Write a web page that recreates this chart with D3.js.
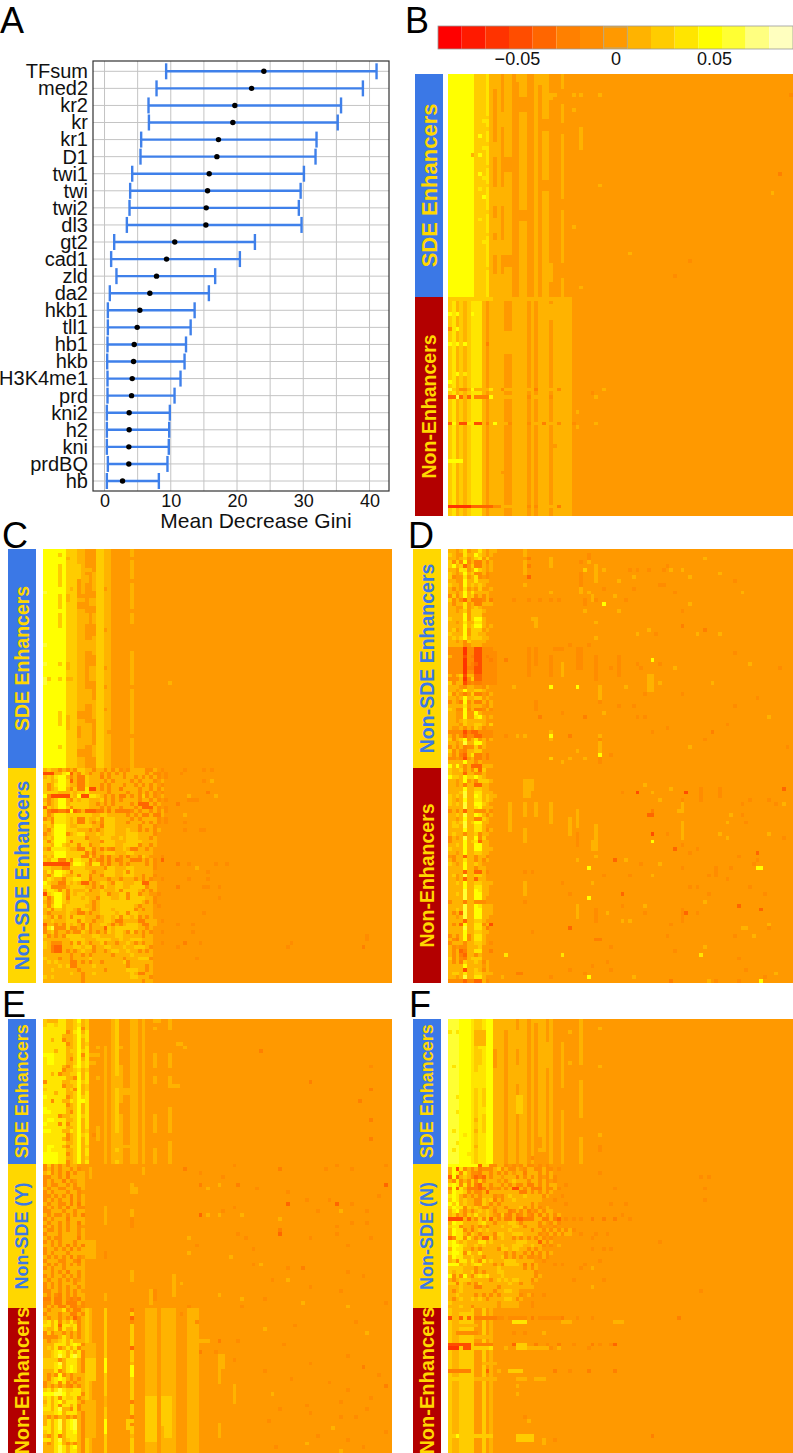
<!DOCTYPE html>
<html>
<head>
<meta charset="utf-8">
<title>Panels</title>
<script src="https://cdn.jsdelivr.net/npm/d3@7"></script>
<style>
body { margin: 0; background: #fff; }
svg { display: block; font-family: "Liberation Sans", Arial, sans-serif; }
.grid { stroke: #c4c4c4; stroke-width: 1; }
.axis path, .axis line { display: none; }
</style>
</head>
<body>
<script>
// panel A
var features = ["TFsum","med2","kr2","kr","kr1","D1","twi1","twi","twi2","dl3","gt2","cad1","zld","da2","hkb1","tll1","hb1","hkb","H3K4me1","prd","kni2","h2","kni","prdBQ","hb"];
var giniLow = [9.3,7.85,6.64,6.7,5.53,5.43,4.18,3.87,3.77,3.37,1.46,1.0,1.8,0.8,0.5,0.5,0.45,0.4,0.45,0.45,0.35,0.35,0.35,0.5,0.35];
var giniMean = [24.05,22.2,19.67,19.37,17.2,16.96,15.8,15.55,15.35,15.3,10.6,9.36,7.85,6.84,5.33,4.93,4.48,4.38,4.18,4.08,3.72,3.72,3.67,3.67,2.72];
var giniHigh = [41.06,39.0,35.7,35.2,32.0,31.85,30.1,29.6,29.33,29.74,22.7,20.43,16.7,15.75,13.6,13.0,12.3,12.08,11.47,10.57,9.86,9.76,9.7,9.5,8.2];
var giniTicks = [0,10,20,30,40];
var giniGrid = [0,5,10,15,20,25,30,35,40];

// colour key (level = steps of 0.012 away from zero)
var keyColors = ["#ff0000","#ff1a00","#ff3300","#ff4d00","#ff6600","#ff8000","#ff8c00","#ff9900","#ffb300","#ffcc00","#ffe500","#ffff00","#ffff33","#ffff80","#ffffbf"];
var keyTicks = [-0.05,0,0.05];
var levelStep = 0.012;

// heat maps: columns = typical level of a column, rows = row by row read of the busy left block
// (0-5 = level, a-f = -1..-6), bands = [row0,row1,col0,col1,level], spots = [row,col,level]
var bSdeColumns = [4,4,4,4,4,4,4,2,2,2,3,1,0,1,0,1,1,0,0,1,1,0,0,1,0,1,1,0,0,0,1];
var bSdeBands = [[0,3,11,12,1],[5,6,25,27,1],[5,5,26,28,1],[0,1,18,20,1],[14,17,35,35,1],[17,19,35,35,1],[40,44,23,23,1],[10,13,13,14,1],[18,21,12,13,1],[30,34,12,16,1],[44,47,11,14,1],[0,2,23,24,1],[50,54,26,27,1],[6,9,19,20,0],[22,25,15,16,0],[36,38,19,20,0],[48,50,15,16,0],[12,14,25,26,0],[28,30,25,26,0],[4,7,30,30,0],[13,15,30,30,0],[33,35,30,30,0],[50,53,30,30,0],[38,41,12,13,1],[53,58,11,14,1]];
var bSdeSpots = [[5,33,1],[5,35,1],[5,40,1],[5,91,-1],[9,33,1],[29,40,1],[26,88,-2],[49,64,-1],[16,8,4],[21,8,4],[21,6,1],[26,8,4],[30,8,3],[32,9,4],[11,10,2],[14,10,2],[18,10,2],[24,10,2],[29,10,2],[36,10,2],[42,10,2],[51,10,2],[12,9,3],[19,9,3],[27,9,3],[38,8,3],[44,9,3],[53,60,-1],[31,86,1],[47,48,1],[40,33,1],[56,35,1]];
var bNonColumns = [2,3,1,2,1,2,3,3,3,1,0,1,1,1,1,0,0,1,1,1,1,0,1,0,1,1,1,0,1,1,1,1,1];
var bNonBands = [[24,24,0,32,1],[26,26,7,10,-2],[26,26,12,30,1],[33,33,11,33,1],[43,43,0,3,4],[55,55,0,5,-5],[55,55,6,11,-3],[55,55,12,13,-1],[55,55,14,31,1],[2,5,24,27,1],[9,14,15,16,1],[0,0,0,11,2],[0,0,12,27,1],[36,40,30,32,1]];
var bNonSpots = [[24,0,5],[24,1,2],[24,3,-1],[24,4,-1],[24,6,4],[24,11,3],[24,14,-1],[24,23,-2],[24,29,-1],[26,0,-3],[26,1,-3],[26,2,5],[26,3,-3],[26,5,-3],[26,11,4],[26,21,-1],[26,27,-1],[26,39,1],[33,0,-3],[33,1,4],[33,3,-4],[33,4,-4],[33,5,3],[33,7,-4],[33,8,-4],[33,10,-2],[33,12,4],[33,16,-1],[33,21,-1],[33,25,-2],[33,29,-1],[33,33,-1],[33,39,1],[4,0,4],[4,2,4],[4,6,4],[8,2,4],[8,0,-1],[12,0,4],[12,2,4],[12,4,4],[12,10,-2],[20,2,4],[20,4,3],[22,0,4],[25,38,-1],[24,41,1],[30,34,1],[34,34,1],[55,21,-1],[55,23,-1],[55,29,-2],[46,14,0],[39,28,0]];

var cSdeColumns = [4,4,4,4,4,4,2,2,2,1,1,0,0,0,2,2,1,1,0,0,0,0,0,1];
var cSdeBands = [[4,7,9,9,2],[8,11,9,9,0],[5,5,11,12,1],[7,8,11,11,1],[6,10,13,13,1],[12,16,11,11,0],[12,12,9,10,0],[14,15,9,10,0],[17,19,10,11,1],[13,14,12,13,1],[17,19,13,13,1],[23,27,13,13,1],[24,30,9,9,1],[24,26,11,12,1],[31,34,12,13,1],[37,40,11,12,1],[40,44,13,13,1],[46,51,11,12,1],[52,54,13,13,1],[4,9,4,4,2],[12,15,4,4,2],[17,20,4,4,2],[43,46,4,4,2],[44,47,6,6,1],[12,13,6,6,1],[30,31,6,6,1],[43,44,9,10,0],[47,49,9,9,0],[53,54,9,10,0],[20,26,23,23,0],[2,2,23,23,0],[8,8,23,23,0],[16,16,23,23,0],[36,36,23,23,0],[49,49,23,23,0]];
var cSdeSpots = [[1,4,2],[2,6,1],[10,7,1],[10,16,0],[21,16,0],[31,16,0],[36,16,0],[42,16,0],[48,17,0],[30,4,2],[34,1,2],[34,4,2],[34,6,1],[34,7,1],[34,9,1],[31,9,1],[35,33,1],[11,0,5],[25,0,5],[30,0,5],[34,0,5],[35,0,5],[52,4,2]];
var cNonColumns = [1,2,1,2,2,2,1,1,1,1,2,2,1,1,1,1,1,1,1,1,1,1,1,1,1,1,1,1,1,1,1,0,0,0];
var cNonRows = [
"1211a1a1a2211a11a1a1a0a1111aa10a00",
"ddd1134c1a21a11a1a1a1a11111a1aa0a0",
"1213441a1bb2111b1a111a11a1a1a1a0a0",
"2212442c1bb21111a1a1111a1a111a0100",
"2a1344211bb2111a1a111a11a1a1a10a00",
"2a12441a2bb3dd1a1a11b1111a11a1a100",
"22221112122311111a1111a11a1a1a0a00",
"4addddd214dd3321a1a1bb1a1a2a1a0100",
"1a12441a21221112a1a1a1111a11a1a0a0",
"2a124412222211a1a1a1111a1ccc1a1000",
"c212442a2222111a1a11a111a1ccc1a0a0",
"2bccbbc4cb1cccbb1b1bbbba1a11a1a1a0",
"2a13332222222112211111a1a1bb1bb100",
"a1a333212bb2112a2221111a1a1111a0a0",
"22a333212bb21a1a222111a111a1a1a0a0",
"121444211222211b222111111a111a0000",
"1a2444222111a1a1222111211a1a1a1000",
"a12444a1233111212221112221111a0000",
"12144422222a1112221121222111a10000",
"2a24442b2222111a222111222211110000",
"221442122a22a112222112222a11a10000",
"1a3333211bb22a1b1ab1121bb11a100000",
"22244422222b1b11222111221111100000",
"1214442222bb2a1b1b11a1b11a21000a00",
"2133bb2a3322b1ab1b1ba11bbb1a1a0c00",
"ddddddd14431a33a1b11a1a1111a1a0000",
"22111bb222211111a221112211111a0000",
"1314432a22221a11222112a21111100000",
"1a2442112a22a11a2221122211a11a0000",
"13211a223322b1111a11a111a1a1a00a00",
"4211bb2121cc1a1221a2211122cc110000",
"33aaaa1222211a1a21122112222a110000",
"1332a2a21112a1121112a22221a1a10000",
"d23442a2122111122a1122a22a1100a000",
"2b1442b2221211a2221122a222211a0000",
"1a14421222221a1222222222221a1a0000",
"2a24412222211a12222222221a1110a000",
"12a221221a221a1222122222a1a1100000",
"1a1111211bb1a112222122a22111100000",
"21a2a12a222111a12212a2212a1a100000",
"112111222a211a11221bb1111bb1110a00",
"c11a1a2121b2a11221b1a12221bb110000",
"a35aaa2aa1a2a111c2122222211a100000",
"a12a11a1aa21a1a1a21221a2a1a1a00a00",
"2a1a1a22221112211112211111a1100000",
"1111111222211122221121122211100000",
"21aaa11a2a21a112a11a1121a1a1100a00",
"21bcc11122122a11221112112221a00000",
"11bcc1a1a1211a11a12211211a1a100000",
"1111111a11a1a11111a111121111100000",
"2111a11a1111211111111a111222a00000",
"1212111bb1a1a11a111112a11111100000",
"1111212bb1111211111111a1111a100000",
"112111111a111111a1111122211a100000",
"1111111211a11211111111121bb1100000",
"2121111111a11111111111122111a00000",
"1111111111a111111111111111a1100000"];
var cNonSpots = [[0,37,-1],[0,42,-1],[0,44,-1],[1,36,-1],[3,42,-1],[3,44,1],[6,43,-2],[7,45,1],[7,38,1],[8,38,-1],[8,39,-1],[8,40,-1],[9,35,-2],[12,37,1],[14,37,-1],[16,37,-1],[16,42,-1],[16,41,-1],[25,35,-2],[25,38,-1],[25,45,-1],[25,48,-1],[26,40,1],[27,43,-1],[29,43,-1],[29,38,-1],[31,35,-2],[31,46,-1],[31,42,-1],[31,43,-1],[34,46,-1],[41,35,-1],[41,39,-1],[41,35,-1],[38,42,-1],[43,39,-1],[50,40,-1],[46,37,-2],[46,41,-1],[47,35,-1],[45,85,-1],[46,65,-1],[47,64,-1],[44,85,-1],[47,84,-2]];

var dSdeColumns = [1,1,1,1,3,1,1,2,2,1,1,1,1,0];
var dSdeRows = [
"1101301131011","2100311421010","1101201230200","2a2a4a1bb1a10","2412c02bb1010","1103301421010","2101412aa1a00","2a003013a0a00","1100411311100","2110412121000",
"1a10301020010","1101413111100","a2a1412a1a100","2a1ac1bbba1b0","1a11301bb1110","1100301210000","1101202221000","1111402220000","2111402441000","1101311331000",
"1111412441010","1201402220100","2111402211000","1212412221100","1101a21111000","1111a01110000",
"aaaaeaaddaaa0","aaaaeaaddaaaa","1aaadabddabaa","aaaaeaaddaaba","aaaaeabcdaaaa","aaaaebbddaaaa","aaaaeaaddaaaa","1a12d11ccaaaa","aaa1ea2ccaaaa","2a11dbabbaaaa",
"1110a1100a100","1101411221000","2a10b02bb0a10","1101411220100","a10b4a1bb1a10","1111301110a10","21aa4a1bba1a0","1100400410000","1100400341010","1101211111000",
"1110211221020","1001a1021a000","aaaadbccaaaa0","1a1acaaccaaa0","2a124a1301a10","1101511441000","a1a1baa2a1000","2a1ab11220000","1a1bc13bb0b00","aa0ad01bb0b00","1111411a10000","4141a1ccc1110"];
var dSdeBands = [[3,6,20,20,1],[0,1,20,20,1],[9,11,35,35,1],[1,2,37,37,-1],[4,5,39,39,1],[2,4,27,27,1],[26,33,21,21,-1],[26,30,23,23,-1],[28,33,27,27,-1],[26,31,34,35,-1],[28,34,39,39,-1],[28,33,45,45,-1],[36,39,40,40,1],[33,37,53,54,1],[50,53,40,40,1],[6,8,39,39,1],[18,20,23,23,1],[6,9,35,35,-1],[26,26,28,30,-1],[30,33,30,30,1],[40,42,23,23,-1],[48,50,27,27,1],[54,56,40,40,-1]];
var dSdeSpots = [[2,21,-2],[3,35,-1],[3,37,1],[4,21,-2],[5,36,1],[7,21,-3],[9,20,1],[11,27,1],[11,37,1],[13,17,-1],[13,21,-1],[13,24,-1],[13,27,-1],[13,29,-1],[13,36,-1],[13,38,1],[13,39,-1],[13,47,-1],[14,36,-1],[14,41,4],[5,36,2],[5,41,1],[5,48,-1],[5,50,-1],[5,53,-1],[5,57,-1],[5,59,1],[7,49,1],[10,49,-1],[9,56,-1],[9,57,-1],[8,45,1],[10,41,-1],[12,44,1],[12,38,1],[16,36,1],[16,45,1],[18,22,1],[19,39,1],[21,53,1],[22,55,-1],[22,50,1],[23,39,1],[25,32,-1],[25,37,-1],[29,54,4],[30,50,-1],[30,56,-1],[31,51,-1],[29,15,-2],[29,27,-1],[31,43,-1],[36,17,1],[36,27,4],[36,34,4],[36,47,1],[41,49,-1],[38,52,-1],[40,40,-1],[41,45,-1],[43,30,-1],[43,41,1],[44,24,-2],[44,36,-2],[44,50,-1],[44,52,-1],[49,15,-1],[49,18,1],[49,20,1],[49,27,4],[49,32,-2],[49,40,1],[50,40,-1],[53,34,1],[55,32,1],[54,43,-1],[54,40,4],[55,27,2],[55,36,1],[56,30,1],[48,54,-1],[47,58,-1],[50,68,-1],[48,70,-2],[31,60,1],[35,56,1],[38,62,-1],[22,66,1],[21,68,-2],[20,62,-2],[5,62,1],[7,64,1],[2,68,1],[6,72,1],[8,76,-1],[11,78,1],[16,62,-1],[22,72,1],[27,76,-1],[30,80,1],[31,88,-1],[35,70,1],[39,82,-1],[41,76,-1],[44,85,1],[46,74,-1],[52,90,-1],[52,64,1],[14,64,1],[11,60,-1],[4,58,-1]];

var dNonColumns = [1,1,1,2,4,1,1,3,3,2,1,1,1,0,0,0,0];
var dNonRows = [
"2112a1a2c2000","2111c11aa1000","4221422421000","1101401a22210","1101b11cc1100","1111411221100","1112511331110","2121511431211","2101411331210","2121511442100",
"1111511341110","a1a1c11aaa1a0","1121511431a10","1101411bb2100","1212512441100","1221511331000","1111411331a10","1211a112a1100","a1015114a2000","a1114123c1100",
"1121411441100","2111411441110","1101411221100","0a11c11a11a00","1a11311a1a100","2101411210000","1111411a11000","1111c11cc1a00","1201511221000","1101c11c11000",
"1121411221110","1111411331100","1111511431100","1121511441100","1111511441000","a111b11aaa000","1111511431110","1121511441110","1a1c511441110","1101511441100",
"1111c11221000","1a1c41133a100","1111511331b00","1111411221100","a1a14a1331000","1ab14a1331000","a111a112210a0","1a0aa11120000","1a1cb11330000","1a1bc11a10000",
"2a1ab12220000","1a1b21121a100","1111411110100","1111d1121a100","1221311221110","1101511331000","aaaacaacc1a00"];
var dNonBands = [[9,16,16,16,1],[9,12,20,20,1],[16,19,20,20,1],[9,12,23,23,1],[9,14,27,27,1],[13,17,32,32,1],[11,15,34,34,1],[15,18,39,39,1],[17,20,34,34,-1],[4,7,20,21,1],[3,5,20,22,1],[30,33,20,20,1],[36,39,34,34,1],[37,40,39,39,-1],[19,21,38,39,1],[26,28,71,71,-1],[5,8,67,67,-1],[5,7,72,72,-1],[9,11,62,62,1],[14,18,62,62,1],[37,40,62,62,-1]];
var dNonSpots = [[6,50,-4],[6,63,-4],[12,53,-3],[12,54,-3],[11,54,-2],[17,54,-4],[19,54,4],[26,37,4],[26,83,4],[26,82,4],[34,37,4],[33,46,-3],[24,44,-3],[21,60,-3],[36,77,-3],[37,83,-3],[38,63,-3],[56,83,4],[49,67,3],[49,30,3],[49,15,3],[42,32,-3],[41,11,-4],[44,58,-2],[5,89,-3],[22,82,-3],[6,46,-1],[4,52,1],[6,54,1],[8,56,1],[5,59,1],[8,62,-1],[8,80,-1],[8,85,-1],[9,78,-1],[9,87,-1],[9,89,1],[11,61,1],[12,75,1],[12,78,-1],[14,74,1],[14,79,-1],[17,58,-1],[17,72,1],[18,74,1],[17,85,1],[18,89,-1],[21,66,-1],[22,64,-1],[20,62,-1],[24,34,1],[23,77,-1],[24,82,-1],[25,81,-1],[23,39,1],[24,47,1],[25,51,-1],[25,56,1],[26,62,-1],[26,75,-1],[27,20,-1],[27,22,-1],[28,41,-1],[28,48,-1],[28,54,1],[29,74,-1],[28,69,-1],[30,30,-1],[30,38,1],[31,64,-1],[31,66,-1],[31,80,-1],[33,32,-1],[33,69,-1],[33,84,-1],[35,20,-1],[35,68,1],[36,46,-1],[36,52,1],[38,42,1],[38,52,-1],[38,66,-1],[40,46,1],[40,48,1],[41,59,-1],[41,85,1],[42,78,1],[42,79,1],[42,85,-1],[43,22,-1],[44,58,-1],[44,76,-1],[44,81,1],[45,39,-2],[45,40,-2],[47,43,-1],[47,68,1],[48,11,-2],[48,60,-1],[50,77,-1],[52,38,-1],[51,42,-1],[53,32,-1],[53,43,-1],[53,79,-1],[54,18,-2],[54,19,-2],[54,36,-1],[55,14,1],[55,27,-1],[55,37,4],[55,49,1],[54,87,1],[55,84,-1],[56,71,-1],[56,69,1],[56,59,-2],[56,77,-1]];

var eSdeColumns = [3,3,3,3,3,3,1,1,2,4,1,3,0,0,0,0,1,0,1,2,1,0,0,1,1,0,1,0,0,1,0,0,0,1];
var eSdeRows = [
"211133112412","233233112312","3333331124a2","333333a13413","333331112423","33133a112413","333333a12412","333333112413","333133122423","4443331124a3",
"3443331a2413","344333112423","333331a13423","33333a112312","3313a1122413","33333311a413","a33331122423","33333a112412","23333312a412","333133112413",
"433333a12423","33a331132443","333333a12413","433333112413","4433331a2413","3333a1122423","344333112413","4333a3a22413","333333112413","443331132412",
"333333a12423","333331a12413","333333112413","344331a22412","343333112413","444433a12413","444433112412","444433a12413"];
var eSdeBands = [[0,6,20,20,0],[0,2,16,16,0],[8,11,20,20,0],[15,17,19,20,1],[22,24,20,20,0],[30,33,19,19,1],[5,9,21,21,0],[18,19,21,22,1],[0,8,29,29,0],[13,14,29,29,0],[17,24,29,29,0],[30,33,29,29,0],[3,8,33,33,0],[13,14,33,33,0],[18,22,33,33,0],[30,31,33,33,0],[0,6,16,16,0],[15,17,12,14,0],[9,13,12,13,0],[9,9,12,14,1],[11,11,12,13,1],[15,15,14,14,1],[28,31,14,14,1],[33,33,19,22,1],[35,36,18,20,1],[6,6,35,36,1],[17,17,33,35,1],[10,10,33,33,1],[2,2,29,29,1],[37,37,29,29,1],[37,37,33,33,1],[0,0,29,30,1]];
var eSdeSpots = [[8,57,-2],[12,86,-1],[16,70,-2],[18,86,-2],[21,83,-2],[26,86,-2],[31,86,-2],[7,37,1],[7,14,1],[15,14,1],[30,14,1],[30,13,-1]];
var eNonColumns = [1,1,1,1,1,1,1,1,1,1,1,0,0,0,0,0,0,0,0,0,0,0,0,0,0];
var eNonRows = [
"a2a1a1a1100","a1a1a11a1a0","12a1a1b1a11","aa11a1b1111","a1a11b1a011","a1aa11a1a11","1a11aa11aa1","a1a111a11a0","aa1a1a1b1a1","a1a1a11b1a1",
"1a11aa1b1b1","a1a1a1b11aa","aa111a11a11","1a1aa1a1a1b","a1a111b1111","1a11a1a11b1","a1a1a1a11a0","1aa1a1a11a1","a111a1111a1","1a1aa1111b1",
"a1a1a111a11","11a1a1b1a1b","a11a1a1b1a1","a1a111a1111","1a1a1a1b1a0","a111aa11ab1","1a1a1a1a1a1","a1a11a11111","11a1a1b11a1","a1a11a1a1a1",
"1a11a1a1a01","a1a1a111a11","a1a1a1a11a1","aa11a1a1a10","1a1ab1a1a11","bb1bb1abab1","aa1bb1bbb1a","a1a1bb1bb0a"];
var eNonBands = [[1,3,12,12,1],[6,7,23,24,1],[11,15,16,16,1],[12,15,23,23,1],[1,2,26,26,1],[5,6,23,23,1],[14,16,23,23,-1],[20,24,11,13,1],[23,24,16,16,-1],[28,30,23,23,1],[29,34,34,34,1],[33,36,28,28,1],[33,35,29,29,-1],[34,35,16,16,1]];
var eNonSpots = [[1,37,-2],[0,50,-1],[1,62,-2],[1,74,-1],[0,77,-1],[1,81,-1],[0,90,-1],[2,41,-1],[3,47,-1],[5,41,-2],[6,43,1],[5,46,1],[5,51,-2],[6,56,-1],[7,64,-1],[5,90,-3],[8,88,-1],[10,64,-3],[9,69,-1],[9,75,-1],[10,77,-3],[10,81,-1],[11,50,-1],[12,47,-1],[13,41,-3],[13,43,1],[13,46,1],[13,52,1],[12,72,-1],[12,78,1],[12,85,-1],[14,62,1],[15,81,-1],[15,85,-1],[16,77,-1],[17,62,-2],[18,77,-1],[18,62,-3],[18,51,-1],[19,38,1],[19,53,-1],[19,70,-1],[19,86,-1],[21,40,-1],[21,80,-1],[22,55,-1],[23,38,1],[24,49,1],[26,55,-1],[26,57,1],[27,68,-2],[27,64,-1],[28,80,-1],[29,84,-1],[30,60,-1],[30,64,1],[31,36,1],[32,70,-1],[33,78,-1],[34,46,1],[35,52,1],[35,58,-1],[36,90,-1],[36,68,1],[37,38,-1],[37,52,-1],[37,80,1]];
var eEnhColumns = [1,2,1,2,3,4,1,3,3,4,1,2,1,0,0,0,2,0,0,0,0,0,0,2,0,0,0,1,1,1,0,1,1,1,1,0,0,0,1,1,1];
var eEnhRows = [
"1a1113a1bb1","a111a11bb1a","1a11a1a1ca1","2313a2131a1","3313c3323a1","2113a3113a1","a2a11a1a1a1","aaaa131a1a1","1a112313111","1113331343a",
"1213a1313a1","1123431313a","1123531453a","2222a13331a","2223513331a","2223413431a","1113a13431a","1a1a4a1a111","1a23431a1a1","a123a3a1a11",
"a1a1a1ab1a1","23135322331","4445542333a","2313a3223a1","1313413331a","2313a3313a1","3313511a3a1","2223413331a","1a1a11a1a1a","1313513451a",
"1313513451a","3313513451a","2313413341a","1a13b13331a","3313512331a","1a1341a1a1a","1113531341a","1113531331a"];
var eEnhBands = [[9,10,27,28,1],[13,20,27,29,1],[23,28,27,29,2],[29,34,27,29,2],[13,20,31,33,1],[23,30,31,33,2],[30,33,32,33,2],[9,12,11,13,1],[13,18,11,13,2],[24,28,11,13,1],[29,33,11,13,1],[13,16,16,16,4],[29,32,16,16,4],[7,9,16,16,2],[23,25,16,16,1],[2,6,23,23,2],[14,17,23,23,4],[29,31,22,23,2],[8,8,38,43,1],[13,14,38,40,1],[28,29,38,40,1],[16,19,46,46,1],[12,15,46,47,1],[2,3,23,23,-1],[20,24,50,50,1],[30,33,46,46,1]];
var eEnhSpots = [[0,23,-2],[2,23,-3],[10,23,-3],[14,23,1],[24,23,-2],[28,23,-2],[30,23,-1],[33,23,1],[1,36,-1],[3,40,-1],[4,66,-1],[5,58,1],[8,46,-2],[8,51,-1],[9,63,-1],[11,45,-1],[11,41,-2],[13,50,-1],[14,70,-1],[16,58,-1],[18,65,-1],[19,75,-1],[21,80,-1],[22,60,1],[24,78,-1],[25,69,-1],[26,62,-1],[26,85,-1],[27,70,-1],[28,82,-1],[29,59,-1],[31,76,1],[32,90,-1],[33,72,-1],[34,80,-1],[35,69,1],[36,84,-1],[36,61,-1],[37,78,1],[12,80,-1],[15,84,-2],[17,88,-1],[20,90,-2],[23,86,-1],[28,78,-1],[3,82,-1],[6,85,1]];

var fSdeColumns = [5,5,5,4,4,4,3,2,3,3,4,4,1,1,1,0,1,1,0,1,1,0,1,0,1,1,0,1,0,0,1,0,0,0,0,1];
var fSdeBands = [[0,2,7,8,2],[3,6,7,9,1],[8,11,7,8,2],[14,17,7,9,3],[18,22,9,9,2],[25,29,9,9,2],[0,2,13,15,1],[4,7,12,12,1],[8,12,12,12,0],[3,7,18,20,1],[30,33,18,18,0],[12,16,18,19,1],[20,24,18,19,2],[0,0,23,25,1],[6,12,26,26,1],[13,18,26,26,0],[0,5,30,30,0],[18,23,30,30,0],[3,8,35,35,1],[12,15,35,35,0],[26,30,35,35,0],[31,33,23,24,0],[35,37,24,26,0]];
var fSdeSpots = [[3,2,3],[3,0,3],[9,1,5],[10,2,5],[12,1,3],[20,2,3],[23,1,5],[24,2,3],[24,0,5],[29,1,3],[32,2,3],[34,1,3],[2,40,1],[12,40,1],[30,40,1],[33,40,-1],[34,40,-1],[36,22,-1],[3,32,1],[11,32,1],[26,7,1],[29,7,1],[33,7,1],[30,4,3],[35,5,3]];
var fNonRows = [
"44444444c33aa11a0a0a1aa0a0a000000000",
"14d3a1a1baaa12a1aa10a11aa1aa0a000000",
"143a31aab11a1a1a1011b111a1a100000000",
"c4c121acbc1a110111b1a1a1a0a1a0000000",
"1a3a1a2a2a11101a12111a11a1a0a0000000",
"343a3a2bc11a11a1a1aa1bb1a1a1100a0000",
"a4c31bbbcb1a0a1a1dd1a1bbb1aa1a000000",
"14332a1aa1c11111111bb1a1a1a100000000",
"3431a1a1a111a0a1211121111a1000a00000",
"2431211aa212b1a1121111111000a0000000",
"4241211aa21a1a11111111a10000000a0000",
"2433a2121aa1011a1112a1a1a01000000000",
"1341a1a12121a111ba1a1b0a1a1100000000",
"12a1a21311210a2ab1ba1ab1b1a1a1000000",
"dddd1c1a2a2c1a1bb1ccbbb11bb1bc0a0a0a",
"143311112311a111221a1111a10a1a000000",
"233a11a1a1a111211221a111a000a0000000",
"1433a1b121211111211111a11a1a1a1a1a00",
"14331a21a111a22112221111a0a1a1a1100a",
"ca33a31a1cc2a1211a1a1a1a1a0a00000000",
"342121113312111111222111c1a100000000",
"3443211212111121122211211a0a01000000",
"143311a1a1111a2212211a1a100000000000",
"3443a3113111111a1a11a1b1a1a100000000",
"143311211a11112a1a1a1aa0a1a000000000",
"12a33131a3121112221111100a0000000000",
"444121233111a1a22221b1b10000a0a00000",
"2222111a111112111111a1a100000000000a",
"2122112a1a1112211111111a000000000000",
"4a2a41a2323111211111111a100000000000",
"1a122211111a1212122111a1000000000a00",
"22b21a1a21111111211a1100000000000000",
"1112111bb1111a1111111110000000000000",
"1a1211111111a11221100000000000000000",
"1121111a1a1a1a11111a01a00a0000000000",
"1a12112121a1111221a10000000000000000",
"2111111111111011111000a0000000000000",
"111211a111111011111000a0000000000000"];
var fNonSpots = [[2,40,-1],[3,67,-1],[3,69,-1],[6,68,-1],[6,44,-1],[9,68,-1],[10,47,-1],[10,43,-1],[14,38,-2],[14,41,-2],[14,44,-2],[14,48,-1],[20,56,-1],[22,41,-1],[22,43,-1],[22,38,-1],[30,41,-1],[32,38,1],[33,67,-1],[25,40,-1],[26,36,-1],[27,38,1],[13,46,-1],[18,39,-1],[18,42,-1],[19,38,-1]];
var fEnhColumns = [2,1,1,2,2,2,2,0,0,2,0,1,0];
var fEnhBands = [[0,0,3,5,1],[2,2,0,0,-4],[2,2,1,2,1],[2,2,3,3,-3],[2,2,4,4,2],[2,2,5,5,-3],[2,2,7,12,-2],[2,2,13,14,-1],[2,2,16,20,-1],[3,3,17,20,3],[2,2,24,29,-1],[3,3,30,32,1],[3,3,44,46,1],[9,9,0,5,-4],[10,10,0,2,-5],[10,10,4,5,-4],[9,9,7,11,-2],[10,10,7,11,2],[9,10,18,20,2],[10,10,21,26,1],[16,16,0,5,-2],[16,16,16,19,2],[18,18,1,6,2],[18,18,7,12,1],[18,18,18,20,1],[33,33,0,3,2],[33,33,7,11,2],[33,34,18,22,2],[6,6,2,7,-1],[4,4,2,7,1],[14,14,9,12,1],[7,7,7,11,1],[18,18,23,25,1]];
var fEnhSpots = [[2,22,-2],[2,30,-2],[2,34,-1],[2,38,-1],[2,61,-2],[6,17,-1],[6,20,-1],[6,25,1],[9,17,-3],[9,23,-2],[9,26,-1],[9,29,-2],[9,33,-1],[9,38,-2],[9,40,-1],[9,43,-1],[9,44,-3],[10,15,1],[10,27,-1],[10,29,1],[10,37,-1],[10,11,3],[16,10,-3],[16,28,-2],[16,32,-1],[16,37,-2],[16,44,-2],[16,13,1],[33,2,4],[33,54,-2],[20,18,1],[22,18,1],[28,20,-1],[29,21,1],[34,25,1],[35,25,1],[34,28,-1]];

var levelCodes = {a:-1,b:-2,c:-3,d:-4,e:-5,f:-6};
function codeLevel(ch) {
  return ch in levelCodes ? levelCodes[ch] : +ch;
}

var panelColumns = 92;

// one row-by-column grid of levels for a group
function buildGroup(nRows, columns, rows, bands, spots) {
  var grid = d3.range(nRows).map(function(r) {
    return d3.range(panelColumns).map(function(c) {
      if (rows && rows[r] && c < rows[r].length) return codeLevel(rows[r][c]);
      return c < columns.length ? columns[c] : 0;
    });
  });
  (bands || []).forEach(function(b) {
    d3.range(b[0], Math.min(b[1], nRows - 1) + 1).forEach(function(r) {
      d3.range(b[2], b[3] + 1).forEach(function(c) { grid[r][c] = b[4]; });
    });
  });
  (spots || []).forEach(function(s) {
    if (s[0] < nRows) grid[s[0]][s[1]] = s[2];
  });
  return grid;
}

var blue = "#3b78e6", gold = "#ffd700", darkRed = "#b30000";

var panels = [
  {x: 448, y: 74, w: 345, h: 442, side: 415, sideW: 28, groups: [
    {label: "SDE Enhancers", bg: blue, fg: gold, size: 22, grid: buildGroup(59, bSdeColumns, null, bSdeBands, bSdeSpots)},
    {label: "Non-Enhancers", bg: darkRed, fg: gold, size: 19.5, grid: buildGroup(58, bNonColumns, null, bNonBands, bNonSpots)}]},
  {x: 43, y: 549, w: 349, h: 434, side: 8, sideW: 28, groups: [
    {label: "SDE Enhancers", bg: blue, fg: gold, size: 19.5, grid: buildGroup(58, cSdeColumns, null, cSdeBands, cSdeSpots)},
    {label: "Non-SDE Enhancers", bg: gold, fg: blue, size: 19.5, grid: buildGroup(57, cNonColumns, cNonRows, null, cNonSpots)}]},
  {x: 448, y: 549, w: 345, h: 434, side: 413, sideW: 28, groups: [
    {label: "Non-SDE Enhancers", bg: gold, fg: blue, size: 19.5, grid: buildGroup(58, dSdeColumns, dSdeRows, dSdeBands, dSdeSpots)},
    {label: "Non-Enhancers", bg: darkRed, fg: gold, size: 19.5, grid: buildGroup(57, dNonColumns, dNonRows, dNonBands, dNonSpots)}]},
  {x: 43, y: 1019, w: 349, h: 434, side: 8, sideW: 28, groups: [
    {label: "SDE Enhancers", bg: blue, fg: gold, size: 18, grid: buildGroup(38, eSdeColumns, eSdeRows, eSdeBands, eSdeSpots)},
    {label: "Non-SDE (Y)", bg: gold, fg: blue, size: 18, grid: buildGroup(38, eNonColumns, eNonRows, eNonBands, eNonSpots)},
    {label: "Non-Enhancers", bg: darkRed, fg: gold, size: 20, grid: buildGroup(38, eEnhColumns, eEnhRows, eEnhBands, eEnhSpots)}]},
  {x: 448, y: 1019, w: 345, h: 434, side: 413, sideW: 28, groups: [
    {label: "SDE Enhancers", bg: blue, fg: gold, size: 18, grid: buildGroup(38, fSdeColumns, null, fSdeBands, fSdeSpots)},
    {label: "Non-SDE (N)", bg: gold, fg: blue, size: 18, grid: buildGroup(38, [], fNonRows, null, fNonSpots)},
    {label: "Non-Enhancers", bg: darkRed, fg: gold, size: 20, grid: buildGroup(38, fEnhColumns, null, fEnhBands, fEnhSpots)}]}
];

var svg = d3.select("body").append("svg").attr("width", 793).attr("height", 1453);

// letters
[["A",0,33],["B",405,33],["C",2,548],["D",408,548],["E",2,1017],["F",409,1017]].forEach(function(l) {
  svg.append("text").attr("x", l[1]).attr("y", l[2]).attr("font-size", 36).text(l[0]);
});

// panel A
var box = {left: 93, right: 389, top: 61, bottom: 491};
var xGini = d3.scaleLinear().domain([-1.74, 42.94]).range([box.left, box.right]);
var yGini = d3.scalePoint().domain(features).range([71.3, 481]);
var a = svg.append("g");
a.selectAll(".gv").data(giniGrid).join("line").attr("class", "grid")
  .attr("x1", xGini).attr("x2", xGini).attr("y1", box.top).attr("y2", box.bottom);
a.selectAll(".gh").data(features).join("line").attr("class", "grid")
  .attr("x1", box.left).attr("x2", box.right).attr("y1", yGini).attr("y2", yGini);
a.append("rect").attr("x", box.left).attr("y", box.top)
  .attr("width", box.right - box.left).attr("height", box.bottom - box.top)
  .attr("fill", "none").attr("stroke", "#333").attr("stroke-width", 1.2);
features.forEach(function(f, i) {
  var g = a.append("g").attr("stroke", "#3f80ea").attr("stroke-width", 2.4);
  g.append("line").attr("x1", xGini(giniLow[i])).attr("x2", xGini(giniHigh[i])).attr("y1", yGini(f)).attr("y2", yGini(f));
  [giniLow[i], giniHigh[i]].forEach(function(v) {
    g.append("line").attr("x1", xGini(v)).attr("x2", xGini(v)).attr("y1", yGini(f) - 8).attr("y2", yGini(f) + 8);
  });
  a.append("circle").attr("cx", xGini(giniMean[i])).attr("cy", yGini(f)).attr("r", 2.7).attr("fill", "#000");
});
a.append("g").attr("class", "axis").attr("transform", "translate(0," + box.bottom + ")")
  .call(d3.axisBottom(xGini).tickValues(giniTicks).tickSize(0).tickPadding(3))
  .selectAll("text").attr("font-size", 18).attr("fill", "#111").attr("font-family", "Liberation Sans");
a.append("g").attr("class", "axis").attr("transform", "translate(" + box.left + ",0)")
  .call(d3.axisLeft(yGini).tickSize(0).tickPadding(5))
  .selectAll("text").attr("font-size", 20).attr("fill", "#111").attr("font-family", "Liberation Sans");
a.append("text").attr("x", 256).attr("y", 528).attr("text-anchor", "middle").attr("font-size", 21).attr("fill", "#111").text("Mean Decrease Gini");

// colour key
var xKey = d3.scaleLinear().domain([-0.09, 0.09]).range([438, 793]);
var colorOf = d3.scaleQuantize().domain([-0.09, 0.09]).range(keyColors);
var keyValues = keyColors.map(function(c, i) { return (i - 7) * levelStep; });
var key = svg.append("g");
key.selectAll("rect").data(keyValues).join("rect")
  .attr("x", function(d) { return xKey(d - levelStep / 2); })
  .attr("width", xKey(levelStep) - xKey(0))
  .attr("y", 26).attr("height", 23)
  .attr("fill", function(d) { return colorOf(d); });
key.append("rect").attr("x", 438).attr("y", 26).attr("width", 355).attr("height", 23)
  .attr("fill", "none").attr("stroke", "#999").attr("stroke-width", 0.8);
key.append("rect").attr("x", xKey(-levelStep / 2)).attr("y", 27).attr("width", xKey(levelStep) - xKey(0)).attr("height", 21)
  .attr("fill", "none").attr("stroke", "#b9a77a").attr("stroke-width", 1);
key.append("g").attr("class", "axis").attr("transform", "translate(0,49)")
  .call(d3.axisBottom(xKey).tickValues(keyTicks).tickSize(0).tickPadding(3)
    .tickFormat(function(d) { return d === 0 ? "0" : d3.format(".2f")(d).replace("-", "\u2212"); }))
  .selectAll("text").attr("font-size", 18).attr("fill", "#111").attr("font-family", "Liberation Sans");

// heat maps
panels.forEach(function(p) {
  var total = d3.sum(p.groups, function(g) { return g.grid.length; });
  var xCell = d3.scaleBand().domain(d3.range(panelColumns)).range([p.x, p.x + p.w]);
  var yCell = d3.scaleBand().domain(d3.range(total)).range([p.y, p.y + p.h]);
  var g = svg.append("g").attr("shape-rendering", "crispEdges");
  var start = 0;
  p.groups.forEach(function(group) {
    var offset = start, n = group.grid.length;
    var cells = [];
    group.grid.forEach(function(row, r) {
      row.forEach(function(level, c) { cells.push({r: offset + r, c: c, v: level * levelStep}); });
    });
    g.append("g").selectAll("rect").data(cells).join("rect")
      .attr("x", function(d) { return xCell(d.c); })
      .attr("y", function(d) { return yCell(d.r); })
      .attr("width", xCell.bandwidth() + 0.3)
      .attr("height", yCell.bandwidth() + 0.3)
      .attr("fill", function(d) { return colorOf(d.v); });
    var top = yCell(offset), bottom = offset + n < total ? yCell(offset + n) : p.y + p.h;
    svg.append("rect").attr("x", p.side).attr("y", top).attr("width", p.sideW).attr("height", bottom - top)
      .attr("fill", group.bg).attr("shape-rendering", "crispEdges");
    svg.append("text")
      .attr("transform", "translate(" + (p.side + p.sideW / 2) + "," + (top + bottom) / 2 + ") rotate(-90)")
      .attr("text-anchor", "middle").attr("dominant-baseline", "central")
      .attr("font-weight", "bold").attr("font-size", group.size).attr("fill", group.fg)
      .text(group.label);
    start += n;
  });
});
</script>
</body>
</html>
